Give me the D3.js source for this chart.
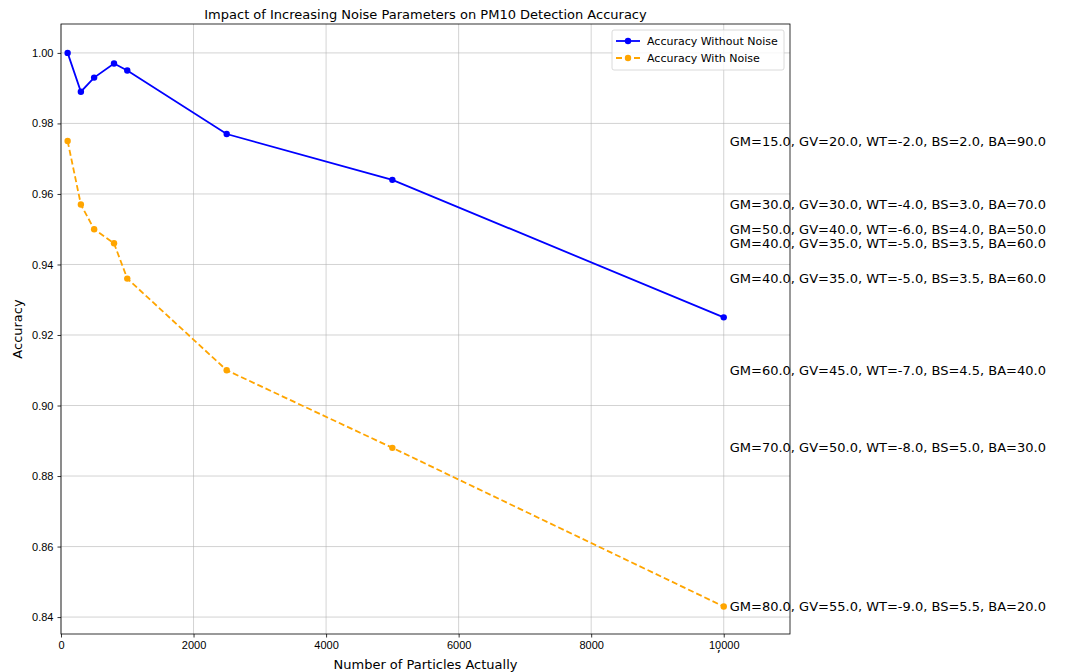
<!DOCTYPE html>
<html lang="en">
<head>
  <meta charset="UTF-8" />
  <title>Impact of Increasing Noise Parameters on PM10 Detection Accuracy</title>
  <style>
    body { margin: 0; background: #fff; }
    svg { display: block; font-family: "DejaVu Sans", sans-serif; }
    .grid line { stroke: #b0b0b0; stroke-opacity: 0.7; stroke-width: 0.8px; }
    .tick text { font-size: 11px; fill: #000; }
    .annot { font-size: 13px; fill: #000; }
  </style>
</head>
<body>
<svg id="chart"></svg>
<script src="https://d3js.org/d3.v7.min.js"></script>
<script>
// data
const particles = [100, 300, 500, 800, 1000, 2500, 5000, 10000];
const accNoNoise = [1.000, 0.989, 0.993, 0.997, 0.995, 0.977, 0.964, 0.925];
const accNoise = [0.975, 0.957, 0.950, 0.946, 0.936, 0.910, 0.888, 0.843];
const noiseLabels = [
  "GM=15.0, GV=20.0, WT=-2.0, BS=2.0, BA=90.0",
  "GM=30.0, GV=30.0, WT=-4.0, BS=3.0, BA=70.0",
  "GM=50.0, GV=40.0, WT=-6.0, BS=4.0, BA=50.0",
  "GM=40.0, GV=35.0, WT=-5.0, BS=3.5, BA=60.0",
  "GM=40.0, GV=35.0, WT=-5.0, BS=3.5, BA=60.0",
  "GM=60.0, GV=45.0, WT=-7.0, BS=4.5, BA=40.0",
  "GM=70.0, GV=50.0, WT=-8.0, BS=5.0, BA=30.0",
  "GM=80.0, GV=55.0, WT=-9.0, BS=5.5, BA=20.0"
];
const xTicks = [0, 2000, 4000, 6000, 8000, 10000];
const yTicks = [0.84, 0.86, 0.88, 0.90, 0.92, 0.94, 0.96, 0.98, 1.00];

const width = 1065, height = 672;
const margin = { top: 24, right: 275, bottom: 38, left: 61 };
const innerW = width - margin.left - margin.right;
const innerH = height - margin.top - margin.bottom;

const svg = d3.select("#chart").attr("width", width).attr("height", height);
const g = svg.append("g").attr("transform", `translate(${margin.left},${margin.top})`);

const x = d3.scaleLinear().domain([0, 11000]).range([0, innerW]);
const y = d3.scaleLinear().domain([0.8352, 1.0082]).range([innerH, 0]);

// grid
g.append("g").attr("class", "grid")
  .selectAll("line").data(xTicks).join("line")
  .attr("x1", d => x(d)).attr("x2", d => x(d))
  .attr("y1", 0).attr("y2", innerH);
g.append("g").attr("class", "grid")
  .selectAll("line").data(yTicks).join("line")
  .attr("y1", d => y(d)).attr("y2", d => y(d))
  .attr("x1", 0).attr("x2", innerW);

// axes
const xAxis = g.append("g").attr("transform", `translate(0,${innerH})`)
  .call(d3.axisBottom(x).tickValues(xTicks).tickFormat(d3.format("d")).tickSize(3.5).tickPadding(4));
const yAxis = g.append("g")
  .call(d3.axisLeft(y).tickValues(yTicks).tickFormat(d3.format(".2f")).tickSize(3.5).tickPadding(4));
[xAxis, yAxis].forEach(a => {
  a.select(".domain").remove();
  a.selectAll(".tick line").attr("stroke", "#000").attr("stroke-width", 0.8);
});

// lines
const lineNo = d3.line().x((d, i) => x(particles[i])).y(d => y(d));

g.append("path").datum(accNoNoise)
  .attr("d", lineNo).attr("fill", "none")
  .attr("stroke", "#0000ff").attr("stroke-width", 1.8);
g.append("g").selectAll("circle").data(accNoNoise).join("circle")
  .attr("cx", (d, i) => x(particles[i])).attr("cy", d => y(d))
  .attr("r", 3.2).attr("fill", "#0000ff");

g.append("path").datum(accNoise)
  .attr("d", lineNo).attr("fill", "none")
  .attr("stroke", "#ffa500").attr("stroke-width", 1.8)
  .attr("stroke-dasharray", "6,3");
g.append("g").selectAll("circle").data(accNoise).join("circle")
  .attr("cx", (d, i) => x(particles[i])).attr("cy", d => y(d))
  .attr("r", 3.2).attr("fill", "#ffa500");

// annotations next to the last point
g.append("g").selectAll("text").data(accNoise).join("text")
  .attr("class", "annot")
  .attr("x", x(particles[particles.length - 1]) + 6)
  .attr("y", d => y(d))
  .attr("dy", "0.35em")
  .text((d, i) => noiseLabels[i]);

// stray comma under the last tick
g.append("text").attr("class", "annot")
  .attr("x", x(10000) - 7).attr("y", innerH + 18)
  .text(",");

// frame
g.append("rect").attr("width", innerW).attr("height", innerH)
  .attr("fill", "none").attr("stroke", "#000").attr("stroke-width", 0.8);

// titles
svg.append("text")
  .attr("x", margin.left + innerW / 2).attr("y", margin.top - 5)
  .attr("text-anchor", "middle").attr("font-size", 13)
  .text("Impact of Increasing Noise Parameters on PM10 Detection Accuracy");
svg.append("text")
  .attr("x", margin.left + innerW / 2).attr("y", height - 3)
  .attr("text-anchor", "middle").attr("font-size", 13)
  .text("Number of Particles Actually");
svg.append("text")
  .attr("transform", `translate(22,${margin.top + innerH / 2}) rotate(-90)`)
  .attr("text-anchor", "middle").attr("font-size", 13)
  .text("Accuracy");

// legend
const legend = svg.append("g").attr("transform", `translate(612,30)`);
legend.append("rect").attr("width", 172).attr("height", 40).attr("rx", 2)
  .attr("fill", "#fff").attr("fill-opacity", 0.8)
  .attr("stroke", "#d0d0d0").attr("stroke-width", 0.8);
const legendItems = [
  { label: "Accuracy Without Noise", color: "#0000ff", dash: null },
  { label: "Accuracy With Noise", color: "#ffa500", dash: "6,3" }
];
legendItems.forEach((it, i) => {
  const row = legend.append("g").attr("transform", `translate(0,${11 + i * 17})`);
  row.append("line").attr("x1", 4).attr("x2", 28)
    .attr("stroke", it.color).attr("stroke-width", 1.8)
    .attr("stroke-dasharray", it.dash);
  row.append("circle").attr("cx", 16).attr("r", 3.2).attr("fill", it.color);
  row.append("text").attr("x", 35).attr("dy", "0.35em")
    .attr("font-size", 11).text(it.label);
});
</script>
</body>
</html>
